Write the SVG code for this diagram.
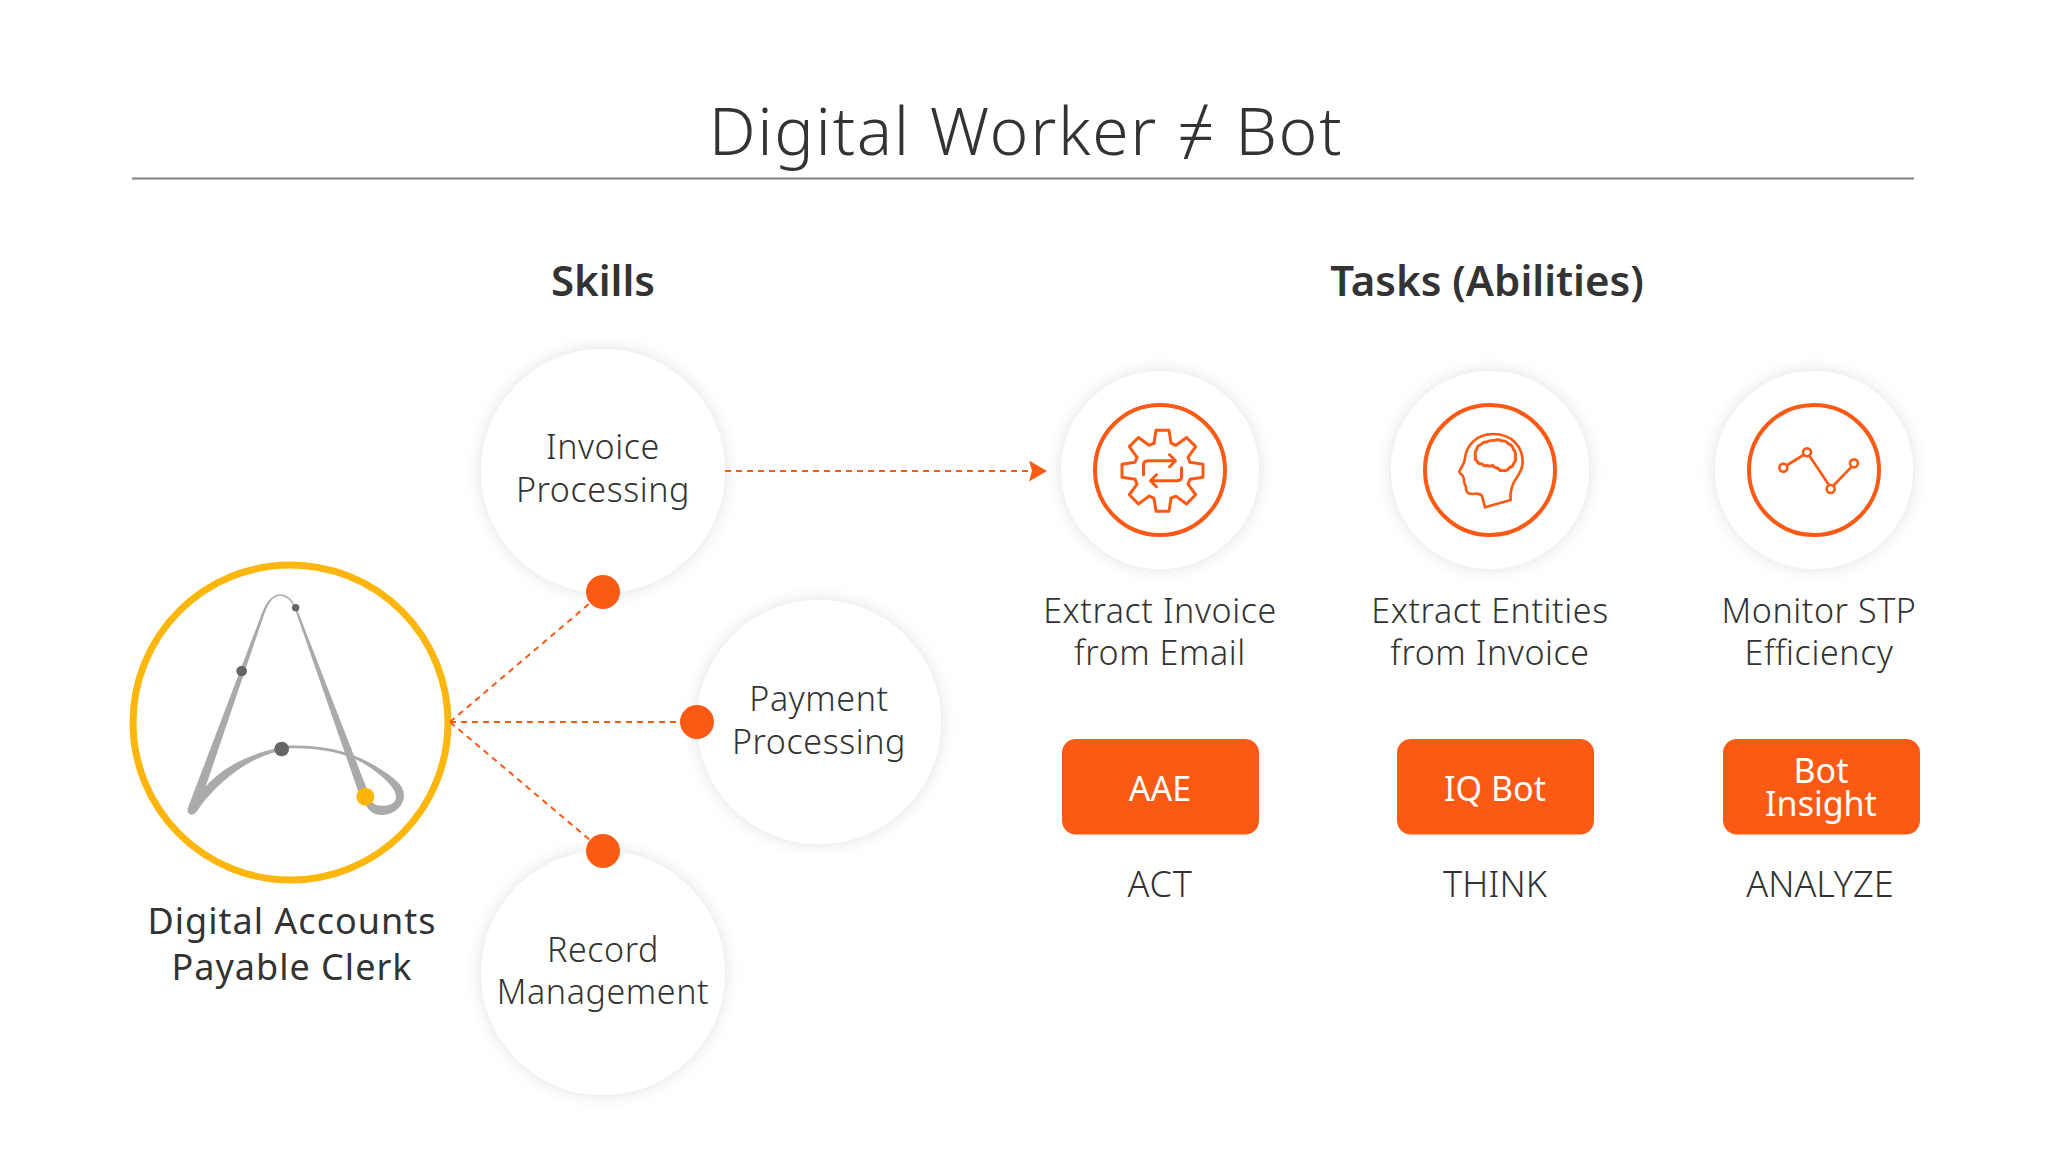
<svg xmlns="http://www.w3.org/2000/svg" xmlns:xlink="http://www.w3.org/1999/xlink" width="2048" height="1170" viewBox="0 0 2048 1170">
<style>
text{font-family:"Noto Sans",Lato,"Liberation Sans",sans-serif;fill:#333;text-anchor:middle}
.t{font-size:34px;font-weight:300;letter-spacing:.6px}
.c{font-size:36px;font-weight:400;letter-spacing:1px}
.a{font-size:36px;font-weight:300}
.h{font-size:42px;font-weight:600}
.b{font-size:34px;font-weight:400;fill:#fff}
.i{fill:none;stroke:#fb5a14;stroke-linecap:round;stroke-linejoin:round}
.d{fill:none;stroke:#fb5a14;stroke-width:2;stroke-dasharray:6 5}
.w{fill:#fff;filter:url(#sh)}
.o{fill:#fb5a14}
.g{fill:#aaa}
</style>
<defs>
<filter id="sh" x="-25%" y="-25%" width="150%" height="150%"><feDropShadow dx="0" dy="0" stdDeviation="8" flood-color="#000" flood-opacity="0.12"/></filter>
<path id="tooth" d="M-8.5 -27.5L-6.5 -40.5H6.5L8.5 -27.5L13.43 -25.46"/>
<marker id="ah" markerWidth="18" markerHeight="21" refX="2" refY="10.5" orient="auto" markerUnits="userSpaceOnUse" viewBox="0 0 18 21"><path d="M0 0L18 10.5L0 21L3 10.5Z" fill="#fb5a14"/></marker>
</defs>
<rect width="2048" height="1170" fill="#fff"/>
<g id="title"><text x="1026" y="155" style="font-size:66px;font-weight:300;letter-spacing:1.7px">Digital Worker ≠ Bot</text><path d="M132 178.5H1914" stroke="#808080" stroke-width="2"/></g>
<g id="headings"><text class="h" x="603" y="296">Skills</text><text class="h" x="1487" y="296">Tasks (Abilities)</text></g>

<g id="node-clerk">
<circle cx="290.5" cy="722.5" r="157.5" fill="#fff" stroke="#fdb60c" stroke-width="7"/>
<g transform="translate(100 540) scale(.33333)">
<path class="g" d="M265 800L480 235C495 190 515 163 540 163C560 163 578 178 587 203L584 205C575 182 558 167 540 167C518 167 503 192 490 230L317 740C370 680 450 640 545 622L545 632C450 650 360 720 300 800C290 818 280 825 272 824C262 820 260 812 265 800Z"/>
<path class="g" d="M584 205L590 205L800 745L775 755Z"/>
<path class="g" d="M545 618C640 612 740 625 830 680C880 710 912 735 912 765C912 800 880 825 845 825C820 825 805 812 795 790L815 785C825 795 835 798 850 797C875 797 890 785 888 768C885 740 840 700 790 670C730 635 640 620 545 626Z"/>
<circle cx="587" cy="203" r="11" fill="#666"/><circle cx="425" cy="393" r="16" fill="#666"/><circle cx="545" cy="627" r="22" fill="#666"/><circle cx="796" cy="770" r="27" fill="#fdb60c"/>
</g>
<text class="c" x="292" y="934">Digital Accounts</text><text class="c" x="292" y="980">Payable Clerk</text>
</g>

<g id="node-invoice"><circle class="w" cx="603" cy="471" r="122"/><text class="t" x="603" y="459">Invoice</text><text class="t" x="603" y="502">Processing</text></g>
<g id="node-payment"><circle class="w" cx="819" cy="722" r="122"/><text class="t" x="819" y="711">Payment</text><text class="t" x="819" y="754">Processing</text></g>
<g id="node-record"><circle class="w" cx="603" cy="973" r="122"/><text class="t" x="603" y="962">Record</text><text class="t" x="603" y="1004">Management</text></g>

<g id="connectors">
<path class="d" d="M450 722L603 592"/><path class="d" d="M450 722H697"/><path class="d" d="M450 722L603 851"/>
<path class="d" d="M725 471H1031" marker-end="url(#ah)"/>
<circle class="o" cx="603" cy="592" r="17"/><circle class="o" cx="697" cy="722" r="17"/><circle class="o" cx="603" cy="851" r="17"/>
</g>

<g id="node-extract-invoice"><circle class="w" cx="1160" cy="470" r="99"/><circle class="i" cx="1160" cy="470" r="65" stroke-width="4"/>
<g transform="translate(1162.5 470.7)" class="i" stroke-width="3"><use xlink:href="#tooth"/><use xlink:href="#tooth" transform="rotate(45)"/><use xlink:href="#tooth" transform="rotate(90)"/><use xlink:href="#tooth" transform="rotate(135)"/><use xlink:href="#tooth" transform="rotate(180)"/><use xlink:href="#tooth" transform="rotate(225)"/><use xlink:href="#tooth" transform="rotate(270)"/><use xlink:href="#tooth" transform="rotate(315)"/>
<path d="M-19 4V-6Q-19 -10 -14 -10H13M7 -16L13 -10L7 -4M19 -3V6Q19 10 14 10H-12M-6 4L-12 10L-6 16"/></g>
<text class="t" x="1160" y="623">Extract Invoice</text><text class="t" x="1160" y="665">from Email</text></g>

<g id="node-extract-entities"><circle class="w" cx="1490" cy="470" r="99"/><circle class="i" cx="1490" cy="470" r="65" stroke-width="4"/>
<g transform="translate(1380 360) scale(.33333)" class="i" stroke-width="8"><path d="M315 442L306 408C300 400 290 400 278 402C262 402 256 395 258 380C250 372 254 362 250 352C252 345 238 342 238 335C240 325 252 315 254 300C258 255 290 222 340 222C395 222 428 260 428 305C428 335 410 350 400 370C392 390 390 405 392 420Z"/><path transform="translate(-23 -23) scale(1.08)" d="M287 290q-4 -12 3 -20q0 -10 12 -14q6 -8 16 -7q10 -6 20 -4q12 -5 22 1q12 -1 18 8q12 4 14 16q8 8 5 20q4 10 -4 18q-2 10 -12 12q-8 12 -20 8q-8 2 -12 -6q-10 -1 -14 -8q-8 4 -16 0q-10 4 -14 -4q-12 0 -14 -8q-8 -4 -4 -13Z"/></g>
<text class="t" x="1490" y="623">Extract Entities</text><text class="t" x="1490" y="665">from Invoice</text></g>

<g id="node-monitor"><circle class="w" cx="1814" cy="470" r="99"/><circle class="i" cx="1814" cy="470" r="65" stroke-width="4"/>
<g transform="translate(1710 360) scale(.33333)" class="i" stroke-width="8"><path d="M232 315L280 285M300 290L355 372M372 375L423 322"/><circle cx="220" cy="323" r="12"/><circle cx="291" cy="277" r="12"/><circle cx="362" cy="387" r="12"/><circle cx="432" cy="310" r="12"/></g>
<text class="t" x="1819" y="623">Monitor STP</text><text class="t" x="1819" y="665">Efficiency</text></g>

<g id="node-aae"><rect class="o" x="1062" y="739" width="197" height="95.5" rx="14"/><text class="b" x="1160" y="801">AAE</text><text class="a" x="1160" y="897" style="letter-spacing:.8px">ACT</text></g>
<g id="node-iqbot"><rect class="o" x="1397" y="739" width="197" height="95.5" rx="14"/><text class="b" x="1495" y="801">IQ Bot</text><text class="a" x="1495" y="897">THINK</text></g>
<g id="node-insight"><rect class="o" x="1723" y="739" width="197" height="95.5" rx="14"/><text class="b" x="1821" y="783">Bot</text><text class="b" x="1821" y="816">Insight</text><text class="a" x="1820" y="897">ANALYZE</text></g>
</svg>
